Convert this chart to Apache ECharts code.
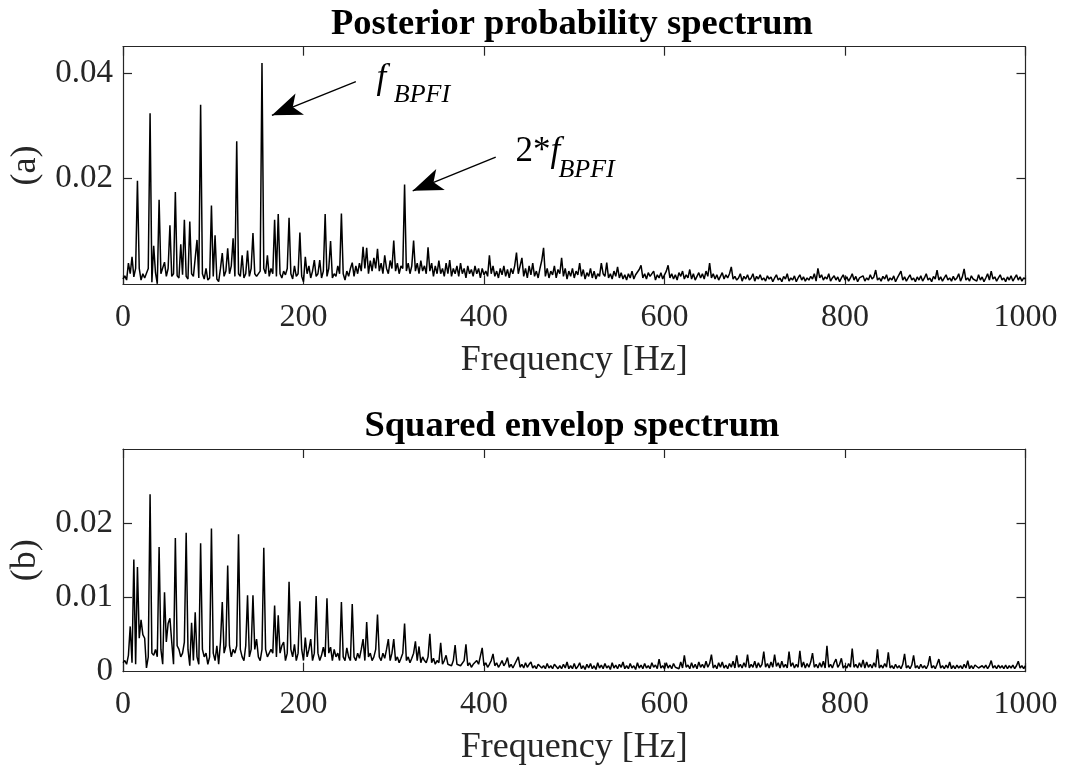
<!DOCTYPE html>
<html>
<head>
<meta charset="utf-8">
<script src="https://cdn.jsdelivr.net/npm/echarts@6/dist/echarts.min.js"></script>
<style>
html,body{margin:0;padding:0;background:#fff;}
#chart{width:1065px;height:774px;}
</style>
</head>
<body>
<div id="chart"></div>
<script>
// Frequency grid step (Hz); index i corresponds to i*FREQ_STEP Hz
const FREQ_STEP = 2;

// (a) Posterior probability spectrum, 0..1000 Hz every 2 Hz
const posteriorSpectrum = [
0.0010,0.0016,0.0008,0.0040,0.0020,0.0052,0.0014,0.0030,0.0196,0.0030,
0.0008,0.0020,0.0012,0.0012,0.0030,0.0324,0.0004,0.0073,0.0022,0.0001,
0.0160,0.0020,0.0018,0.0042,0.0015,0.0030,0.0112,0.0015,0.0020,0.0175,
0.0016,0.0012,0.0076,0.0018,0.0122,0.0015,0.0010,0.0119,0.0020,0.0015,
0.0015,0.0084,0.0012,0.0340,0.0020,0.0010,0.0030,0.0008,0.0012,0.0149,
0.0015,0.0093,0.0010,0.0005,0.0030,0.0059,0.0015,0.0025,0.0068,0.0020,
0.0035,0.0087,0.0015,0.0271,0.0020,0.0015,0.0055,0.0012,0.0020,0.0064,
0.0015,0.0030,0.0097,0.0020,0.0015,0.0012,0.0025,0.0419,0.0030,0.0020,
0.0055,0.0015,0.0030,0.0020,0.0122,0.0015,0.0133,0.0020,0.0012,0.0025,
0.0018,0.0030,0.0126,0.0020,0.0010,0.0035,0.0015,0.0020,0.0098,0.0015,
0.0005,0.0052,0.0020,0.0035,0.0012,0.0025,0.0046,0.0015,0.0020,0.0046,
0.0012,0.0025,0.0133,0.0015,0.0030,0.0082,0.0012,0.0020,0.0015,0.0035,
0.0020,0.0134,0.0020,0.0008,0.0025,0.0015,0.0030,0.0041,0.0015,0.0035,
0.0020,0.0040,0.0025,0.0071,0.0030,0.0069,0.0020,0.0045,0.0025,0.0050,
0.0030,0.0067,0.0025,0.0040,0.0020,0.0055,0.0030,0.0020,0.0045,0.0030,
0.0083,0.0025,0.0040,0.0020,0.0035,0.0030,0.0189,0.0025,0.0040,0.0020,
0.0035,0.0083,0.0025,0.0040,0.0020,0.0045,0.0025,0.0035,0.0020,0.0070,
0.0025,0.0040,0.0015,0.0035,0.0020,0.0045,0.0020,0.0030,0.0015,0.0040,
0.0020,0.0046,0.0015,0.0030,0.0020,0.0035,0.0015,0.0040,0.0020,0.0030,
0.0012,0.0035,0.0020,0.0028,0.0015,0.0035,0.0020,0.0030,0.0012,0.0030,
0.0018,0.0025,0.0015,0.0055,0.0020,0.0035,0.0015,0.0025,0.0012,0.0030,
0.0018,0.0035,0.0015,0.0028,0.0012,0.0030,0.0020,0.0035,0.0060,0.0020,
0.0035,0.0050,0.0015,0.0030,0.0012,0.0035,0.0018,0.0040,0.0015,0.0025,
0.0012,0.0030,0.0045,0.0069,0.0015,0.0030,0.0012,0.0025,0.0018,0.0035,
0.0012,0.0028,0.0020,0.0050,0.0015,0.0030,0.0010,0.0025,0.0015,0.0030,
0.0012,0.0025,0.0018,0.0040,0.0015,0.0028,0.0010,0.0022,0.0015,0.0030,
0.0012,0.0025,0.0010,0.0020,0.0015,0.0040,0.0020,0.0015,0.0041,0.0012,
0.0020,0.0010,0.0025,0.0015,0.0033,0.0012,0.0022,0.0010,0.0018,0.0008,
0.0020,0.0012,0.0025,0.0010,0.0018,0.0015,0.0028,0.0036,0.0012,0.0020,
0.0010,0.0022,0.0015,0.0012,0.0025,0.0008,0.0018,0.0012,0.0022,0.0010,
0.0018,0.0025,0.0036,0.0012,0.0020,0.0010,0.0018,0.0008,0.0022,0.0015,
0.0025,0.0010,0.0018,0.0012,0.0028,0.0010,0.0020,0.0008,0.0015,0.0022,
0.0012,0.0020,0.0010,0.0025,0.0015,0.0040,0.0012,0.0020,0.0010,0.0018,
0.0008,0.0015,0.0022,0.0010,0.0018,0.0012,0.0020,0.0033,0.0010,0.0015,
0.0008,0.0012,0.0020,0.0006,0.0015,0.0010,0.0018,0.0008,0.0012,0.0020,
0.0006,0.0015,0.0010,0.0018,0.0008,0.0012,0.0006,0.0016,0.0010,0.0014,
0.0005,0.0012,0.0018,0.0008,0.0012,0.0005,0.0015,0.0010,0.0020,0.0006,
0.0012,0.0008,0.0016,0.0005,0.0012,0.0018,0.0008,0.0014,0.0006,0.0012,
0.0008,0.0015,0.0010,0.0020,0.0006,0.0030,0.0012,0.0018,0.0008,0.0014,
0.0010,0.0020,0.0006,0.0012,0.0016,0.0008,0.0014,0.0005,0.0012,0.0018,
0.0008,0.0014,0.0006,0.0012,0.0020,0.0008,0.0015,0.0005,0.0012,0.0010,
0.0016,0.0006,0.0012,0.0008,0.0018,0.0010,0.0014,0.0027,0.0008,0.0012,
0.0006,0.0015,0.0010,0.0018,0.0006,0.0012,0.0008,0.0016,0.0005,0.0012,
0.0010,0.0025,0.0008,0.0014,0.0006,0.0012,0.0018,0.0008,0.0012,0.0005,
0.0014,0.0008,0.0016,0.0006,0.0012,0.0020,0.0008,0.0012,0.0005,0.0015,
0.0010,0.0027,0.0008,0.0014,0.0006,0.0012,0.0018,0.0008,0.0012,0.0006,
0.0015,0.0008,0.0012,0.0020,0.0006,0.0014,0.0029,0.0008,0.0012,0.0006,
0.0016,0.0010,0.0012,0.0006,0.0018,0.0008,0.0014,0.0005,0.0012,0.0020,
0.0008,0.0025,0.0010,0.0014,0.0006,0.0012,0.0018,0.0008,0.0012,0.0005,
0.0014,0.0008,0.0016,0.0006,0.0012,0.0018,0.0008,0.0014,0.0006,0.0012,
0.0010
];

// (b) Squared envelope spectrum, 0..1000 Hz every 2 Hz
const envelopeSpectrum = [
0.0012,0.0015,0.0010,0.0022,0.0061,0.0012,0.0151,0.0010,0.0141,0.0045,
0.0070,0.0050,0.0045,0.0005,0.0020,0.0239,0.0025,0.0022,0.0030,0.0020,
0.0168,0.0030,0.0010,0.0107,0.0040,0.0065,0.0072,0.0040,0.0010,0.0180,
0.0035,0.0030,0.0020,0.0025,0.0040,0.0187,0.0030,0.0008,0.0066,0.0015,
0.0080,0.0020,0.0010,0.0173,0.0030,0.0020,0.0025,0.0010,0.0020,0.0193,
0.0025,0.0015,0.0035,0.0010,0.0040,0.0094,0.0025,0.0035,0.0143,0.0035,
0.0020,0.0030,0.0025,0.0035,0.0185,0.0030,0.0020,0.0015,0.0035,0.0103,
0.0020,0.0030,0.0103,0.0030,0.0044,0.0020,0.0015,0.0030,0.0167,0.0030,
0.0020,0.0018,0.0030,0.0025,0.0089,0.0020,0.0076,0.0025,0.0035,0.0040,
0.0015,0.0025,0.0121,0.0030,0.0020,0.0037,0.0015,0.0025,0.0095,0.0030,
0.0015,0.0046,0.0020,0.0030,0.0044,0.0015,0.0025,0.0102,0.0025,0.0015,
0.0022,0.0033,0.0020,0.0099,0.0025,0.0033,0.0015,0.0030,0.0020,0.0025,
0.0015,0.0094,0.0020,0.0015,0.0032,0.0020,0.0015,0.0091,0.0020,0.0015,
0.0025,0.0018,0.0030,0.0044,0.0015,0.0067,0.0020,0.0025,0.0015,0.0020,
0.0030,0.0077,0.0020,0.0015,0.0025,0.0018,0.0030,0.0044,0.0015,0.0025,
0.0044,0.0015,0.0020,0.0012,0.0018,0.0025,0.0065,0.0015,0.0020,0.0012,
0.0018,0.0025,0.0041,0.0015,0.0034,0.0012,0.0020,0.0015,0.0012,0.0020,
0.0051,0.0012,0.0018,0.0010,0.0015,0.0012,0.0039,0.0010,0.0015,0.0022,
0.0010,0.0012,0.0008,0.0015,0.0036,0.0010,0.0012,0.0008,0.0010,0.0015,
0.0037,0.0008,0.0012,0.0006,0.0010,0.0008,0.0015,0.0010,0.0012,0.0032,
0.0008,0.0012,0.0006,0.0010,0.0015,0.0024,0.0008,0.0012,0.0006,0.0010,
0.0015,0.0008,0.0012,0.0019,0.0006,0.0010,0.0005,0.0010,0.0008,0.0020,
0.0006,0.0010,0.0005,0.0012,0.0006,0.0010,0.0013,0.0005,0.0008,0.0004,
0.0010,0.0012,0.0005,0.0008,0.0004,0.0011,0.0005,0.0008,0.0004,0.0010,
0.0012,0.0004,0.0008,0.0004,0.0010,0.0005,0.0013,0.0004,0.0008,0.0004,
0.0011,0.0004,0.0007,0.0012,0.0004,0.0008,0.0003,0.0010,0.0005,0.0011,
0.0004,0.0008,0.0003,0.0012,0.0005,0.0009,0.0004,0.0011,0.0005,0.0008,
0.0003,0.0012,0.0005,0.0009,0.0004,0.0010,0.0006,0.0013,0.0004,0.0008,
0.0004,0.0011,0.0005,0.0008,0.0003,0.0012,0.0005,0.0009,0.0004,0.0011,
0.0005,0.0008,0.0004,0.0012,0.0006,0.0009,0.0004,0.0017,0.0005,0.0008,
0.0004,0.0012,0.0005,0.0009,0.0004,0.0011,0.0006,0.0008,0.0004,0.0013,
0.0005,0.0022,0.0006,0.0009,0.0004,0.0012,0.0005,0.0010,0.0004,0.0013,
0.0006,0.0010,0.0005,0.0014,0.0006,0.0011,0.0023,0.0005,0.0009,0.0004,
0.0012,0.0006,0.0013,0.0005,0.0009,0.0004,0.0011,0.0006,0.0014,0.0005,
0.0022,0.0006,0.0010,0.0005,0.0012,0.0006,0.0023,0.0005,0.0010,0.0006,
0.0014,0.0005,0.0012,0.0006,0.0010,0.0027,0.0006,0.0011,0.0005,0.0013,
0.0006,0.0023,0.0007,0.0012,0.0005,0.0014,0.0006,0.0010,0.0005,0.0027,
0.0007,0.0012,0.0005,0.0010,0.0006,0.0028,0.0006,0.0013,0.0005,0.0011,
0.0006,0.0013,0.0025,0.0006,0.0010,0.0005,0.0012,0.0006,0.0014,0.0005,
0.0035,0.0006,0.0010,0.0005,0.0012,0.0017,0.0006,0.0010,0.0018,0.0005,
0.0008,0.0005,0.0011,0.0006,0.0031,0.0006,0.0010,0.0005,0.0012,0.0006,
0.0016,0.0005,0.0013,0.0006,0.0010,0.0005,0.0012,0.0006,0.0030,0.0005,
0.0009,0.0005,0.0011,0.0006,0.0026,0.0005,0.0008,0.0004,0.0010,0.0005,
0.0008,0.0004,0.0010,0.0024,0.0005,0.0008,0.0004,0.0009,0.0022,0.0005,
0.0008,0.0004,0.0010,0.0005,0.0008,0.0004,0.0009,0.0021,0.0005,0.0008,
0.0004,0.0010,0.0017,0.0005,0.0008,0.0004,0.0009,0.0005,0.0013,0.0004,
0.0008,0.0004,0.0009,0.0005,0.0008,0.0004,0.0010,0.0005,0.0015,0.0004,
0.0008,0.0004,0.0009,0.0010,0.0005,0.0004,0.0008,0.0005,0.0009,0.0004,
0.0008,0.0015,0.0005,0.0008,0.0004,0.0009,0.0005,0.0008,0.0004,0.0009,
0.0004,0.0008,0.0005,0.0009,0.0004,0.0008,0.0014,0.0005,0.0008,0.0004,
0.0008
];

// Axis settings / labels
const xTicks = [0, 200, 400, 600, 800, 1000];
const yTicksA = [0.02, 0.04];
const yTicksB = [0, 0.01, 0.02];
const titles = ['Posterior probability spectrum', 'Squared envelop spectrum'];
const yNames = ['(a)', '(b)'];
const xName = 'Frequency [Hz]';

// Annotations (data coordinates): arrow start, arrow tip
const arrowBPFI = [[258, 0.0384], [165, 0.0320]];
const arrow2BPFI = [[413, 0.0241], [321, 0.0177]];
// text anchors (left, middle)
const labelF1 = [281, 0.0390];
const labelSub1 = [300, 0.0358];
const labelF2 = [435, 0.0251];
const labelSub2 = [482.5, 0.0216];

const FONT = 'Liberation Serif';
const AX = '#262626';

function toPairs(vals) {
  return vals.map((v, i) => [i * FREQ_STEP, v]);
}

function fmtTick(allowed) {
  return function (v) {
    for (const a of allowed) { if (Math.abs(v - a) < 1e-9) return String(a); }
    return '';
  };
}

const chart = echarts.init(document.getElementById('chart'), null, {renderer: 'canvas'});

const grids = [
  {left: 121.7, top: 46.7, width: 903.8, height: 237.6},
  {left: 121.7, top: 449, width: 903.8, height: 222.7}
];

const lineAx = {show: true, onZero: false, lineStyle: {color: AX, width: 1.2}};

function xAxes(gi) {
  const base = {
    type: 'value', gridIndex: gi, min: 0, max: 1000, interval: 200,
    splitLine: {show: false},
    axisLine: lineAx,
    axisTick: {show: true, inside: true, length: 9, lineStyle: {color: AX, width: 1.2}}
  };
  return [
    Object.assign({}, base, {
      position: 'bottom',
      name: xName, nameLocation: 'middle', nameGap: 58,
      nameTextStyle: {fontFamily: FONT, fontSize: 36, color: AX},
      axisLabel: {show: true, margin: 17, fontFamily: FONT, fontSize: 32, color: AX,
        formatter: fmtTick(xTicks)}
    }),
    Object.assign({}, base, {position: 'top', axisLabel: {show: false}})
  ];
}

function yAxes(gi, max, interval, allowed) {
  const tick = {show: true, inside: true, length: 9, lineStyle: {color: AX, width: 1.2},
    customValues: allowed.filter(v => v > 0)};
  const base = {
    type: 'value', gridIndex: gi, min: 0, max: max, interval: interval,
    splitLine: {show: false},
    axisLine: lineAx,
    axisTick: tick
  };
  return [
    Object.assign({}, base, {
      position: 'left',
      name: yNames[gi], nameLocation: 'middle', nameGap: 79,
      nameTextStyle: {fontFamily: FONT, fontSize: 36, color: AX},
      axisLabel: {show: true, margin: 10, fontFamily: FONT, fontSize: 33, color: AX,
        formatter: fmtTick(allowed)}
    }),
    Object.assign({}, base, {position: 'right', axisLabel: {show: false}})
  ];
}

function textMark(coord, rich, text) {
  return {
    coord: coord, symbol: 'circle', symbolSize: 0,
    label: {show: true, position: 'inside', align: 'left', verticalAlign: 'middle',
      formatter: text, rich: rich, color: '#000', fontFamily: FONT}
  };
}

const rich = {
  i: {fontFamily: FONT, fontStyle: 'italic', fontSize: 35, color: '#000'},
  n: {fontFamily: FONT, fontSize: 35, color: '#000'},
  s: {fontFamily: FONT, fontStyle: 'italic', fontSize: 26, color: '#000'}
};

const option = {
  animation: false,
  backgroundColor: '#fff',
  title: [
    {text: titles[0], left: 567, top: 1, textAlign: 'center',
      textStyle: {fontFamily: FONT, fontWeight: 'bold', fontSize: 36.5, color: '#000'}},
    {text: titles[1], left: 567, top: 403, textAlign: 'center',
      textStyle: {fontFamily: FONT, fontWeight: 'bold', fontSize: 36.5, color: '#000'}}
  ],
  grid: grids,
  xAxis: [].concat(xAxes(0), xAxes(1)),
  yAxis: [].concat(yAxes(0, 0.045, 0.02, yTicksA), yAxes(1, 0.03, 0.01, yTicksB)),
  series: [
    {
      type: 'line', xAxisIndex: 0, yAxisIndex: 0, data: toPairs(posteriorSpectrum),
      showSymbol: false, symbol: 'none', sampling: null, silent: true,
      lineStyle: {color: '#000', width: 1.5},
      markLine: {
        silent: true, symbol: ['none', 'arrow'], symbolSize: [17, 30],
        label: {show: false},
        lineStyle: {color: '#000', width: 1.4, type: 'solid'},
        data: [
          [{coord: arrowBPFI[0]}, {coord: arrowBPFI[1]}],
          [{coord: arrow2BPFI[0]}, {coord: arrow2BPFI[1]}]
        ]
      },
      markPoint: {
        silent: true,
        data: [
          textMark(labelF1, rich, '{i|f}'),
          textMark(labelSub1, rich, '{s|BPFI}'),
          textMark(labelF2, rich, '{n|2*}{i|f}'),
          textMark(labelSub2, rich, '{s|BPFI}')
        ]
      }
    },
    {
      type: 'line', xAxisIndex: 2, yAxisIndex: 2, data: toPairs(envelopeSpectrum),
      showSymbol: false, symbol: 'none', sampling: null, silent: true,
      lineStyle: {color: '#000', width: 1.5}
    }
  ]
};

chart.setOption(option);
</script>
</body>
</html>
